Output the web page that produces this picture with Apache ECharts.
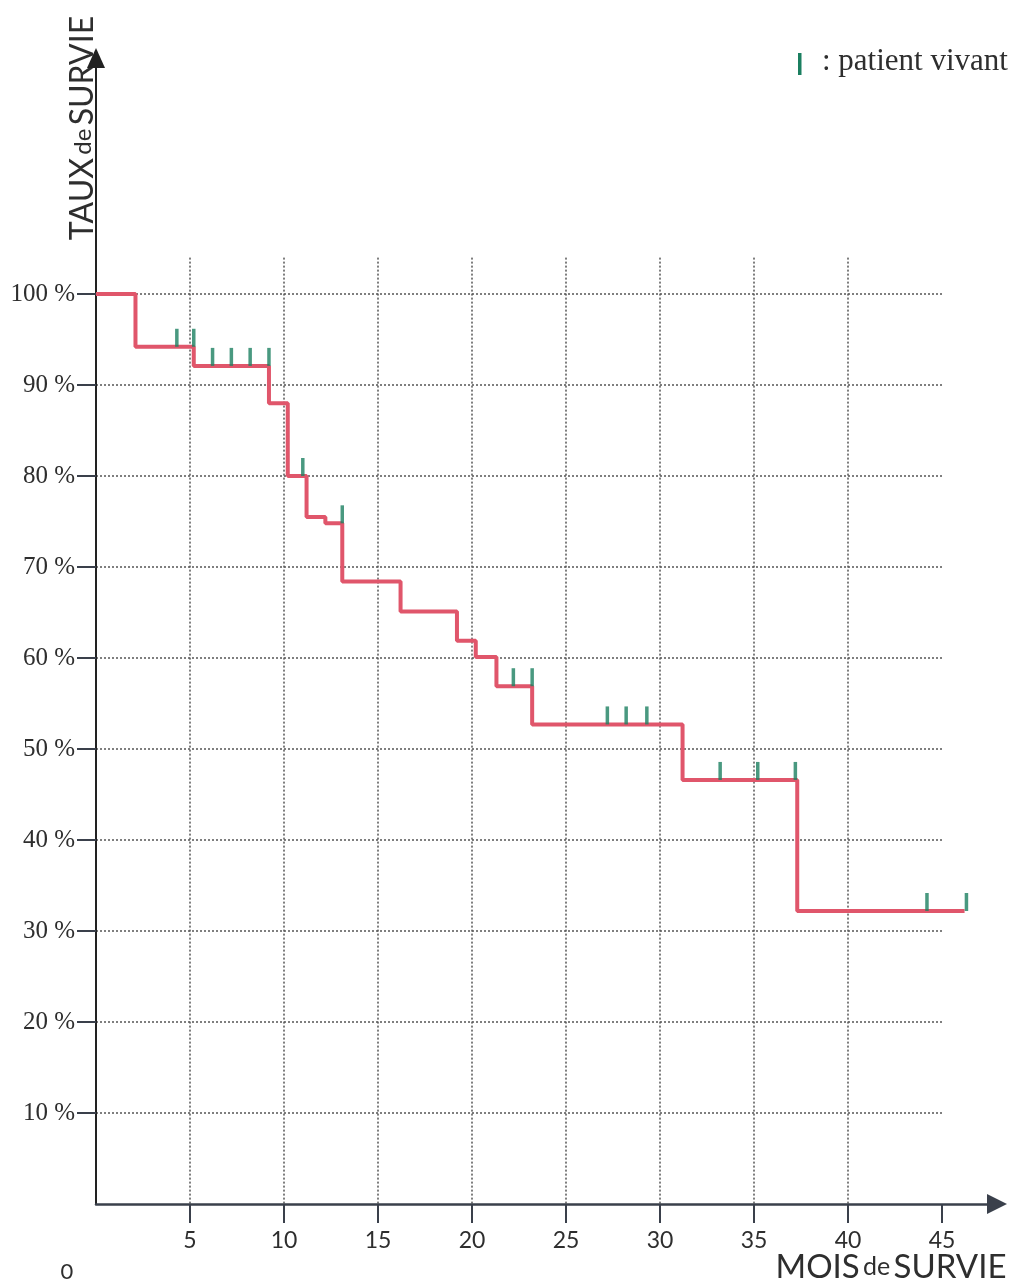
<!DOCTYPE html>
<html>
<head>
<meta charset="utf-8">
<script src="https://cdn.jsdelivr.net/npm/echarts@6/dist/echarts.min.js"></script>
<style>
  html, body { margin: 0; padding: 0; background: #fff; }
  #chart { width: 1024px; height: 1285px; }
</style>
</head>
<body>
<div id="chart"></div>
<script>
// courbe de survie (mois, %)
var eventMonths = [0, 2.1, 5.2, 9.2, 10.2, 11.2, 12.2, 13.1, 16.2, 19.2, 20.2, 21.3, 23.2, 31.2, 37.3, 46.2];
var survival = [100, 94.2, 92.1, 88.0, 80.0, 75.5, 74.8, 68.4, 65.1, 61.9, 60.1, 56.9, 52.7, 46.6, 32.2, 32.2];

// patients vivants (censures)
var censorMonths = [4.3, 5.2, 6.2, 7.2, 8.2, 9.2, 11.0, 13.1, 22.2, 23.2, 27.2, 28.2, 29.3, 33.2, 35.2, 37.2, 44.2, 46.3];
var censorLevels = [94.2, 94.2, 92.1, 92.1, 92.1, 92.1, 80.0, 74.8, 56.9, 56.9, 52.7, 52.7, 52.7, 46.6, 46.6, 46.6, 32.2, 32.2];

var xTicks = [5, 10, 15, 20, 25, 30, 35, 40, 45];
var yTicks = [10, 20, 30, 40, 50, 60, 70, 80, 90, 100];

// mise en page (pixels)
var x0 = 96, yBase = 1204, pxMonth = 18.8, pxPct = 9.1;
var xEnd = 997, yTop = 58;

var curve = eventMonths.map(function (m, i) { return [m, survival[i]]; });
var alive = censorMonths.map(function (m, i) { return [m, censorLevels[i]]; });

var axisColor = '#3a404b';
var arrowColor = '#4a5466';
var green = '#1b7f60';
var sans = 'Lato, "Open Sans", sans-serif';
var serif = '"Liberation Serif", "DejaVu Serif", serif';

var chart = echarts.init(document.getElementById('chart'));
var option = {
  backgroundColor: '#fff',
  animation: false,
  grid: [
    { left: x0, top: yTop, width: xEnd - x0, height: yBase - yTop },
    { left: x0, top: yBase - 104 * pxPct, width: 45 * pxMonth, height: 104 * pxPct }
  ],
  xAxis: [
    {
      type: 'value', gridIndex: 0, min: 0, max: (xEnd - x0) / pxMonth,
      splitLine: { show: false },
      axisLine: { lineStyle: { color: axisColor, width: 2.5 }, symbol: ['none', 'triangle'], symbolSize: [20, 20] },
      axisTick: { customValues: xTicks, length: 19, lineStyle: { color: axisColor, width: 2 } },
      axisLabel: { customValues: xTicks, margin: 25, color: '#2e2e2e', fontSize: 23, fontFamily: sans }
    },
    {
      type: 'value', gridIndex: 1, min: 0, max: 45, interval: 5,
      axisLine: { show: false }, axisTick: { show: false }, axisLabel: { show: false },
      splitLine: { show: true, showMinLine: false, showMaxLine: false,
        lineStyle: { color: '#555', width: 1.5, type: [2, 2] } }
    }
  ],
  yAxis: [
    {
      type: 'value', gridIndex: 0, min: 0, max: (yBase - yTop) / pxPct,
      splitLine: { show: false },
      axisLine: { lineStyle: { color: '#222', width: 2 }, symbol: ['none', 'triangle'], symbolSize: [18, 20] },
      axisTick: { customValues: yTicks, length: 19, lineStyle: { color: axisColor, width: 2 } },
      axisLabel: { customValues: yTicks, margin: 21, color: '#2e2e2e', fontSize: 25, fontFamily: serif,
        formatter: function (v) { return v + ' %'; } }
    },
    {
      type: 'value', gridIndex: 1, min: 0, max: 104, interval: 10,
      axisLine: { show: false }, axisTick: { show: false }, axisLabel: { show: false },
      splitLine: { show: true, showMinLine: false, showMaxLine: false,
        lineStyle: { color: '#555', width: 1.5, type: [2, 2] } }
    }
  ],
  series: [
    {
      type: 'line', xAxisIndex: 0, yAxisIndex: 0, step: 'end',
      data: curve, symbol: 'none',
      lineStyle: { color: '#e0566b', width: 4 }, z: 3
    },
    {
      type: 'scatter', xAxisIndex: 0, yAxisIndex: 0,
      data: alive, symbol: 'rect', symbolSize: [3.5, 18], symbolOffset: [0, -9],
      itemStyle: { color: green }, z: 4
    }
  ],
  graphic: [
    {
      type: 'text', x: 83, y: 128, rotation: Math.PI / 2,
      style: {
        text: '{b|TAUX} {s|de} {b|SURVIE}', align: 'center', verticalAlign: 'middle',
        rich: {
          b: { fontSize: 32, fontFamily: sans, fill: '#2e2e2e' },
          s: { fontSize: 24, fontFamily: sans, fill: '#2e2e2e' }
        }
      }
    },
    {
      type: 'text', x: 891, y: 1267,
      style: {
        text: '{b|MOIS} {s|de} {b|SURVIE}', align: 'center', verticalAlign: 'middle',
        rich: {
          b: { fontSize: 33, fontFamily: sans, fill: '#2e2e2e' },
          s: { fontSize: 25, fontFamily: sans, fill: '#2e2e2e' }
        }
      }
    },
    {
      type: 'text', x: 67, y: 1272,
      style: { text: '0', fontSize: 22, fontFamily: sans, fill: '#2e2e2e', align: 'center', verticalAlign: 'middle' }
    },
    {
      type: 'rect', shape: { x: 798, y: 53, width: 3.5, height: 22 }, style: { fill: green }
    },
    {
      type: 'text', x: 822, y: 62,
      style: { text: ': patient vivant', fontSize: 31, fontFamily: serif, fill: '#2e2e2e', verticalAlign: 'middle' }
    }
  ]
};
chart.setOption(option);
</script>
</body>
</html>
